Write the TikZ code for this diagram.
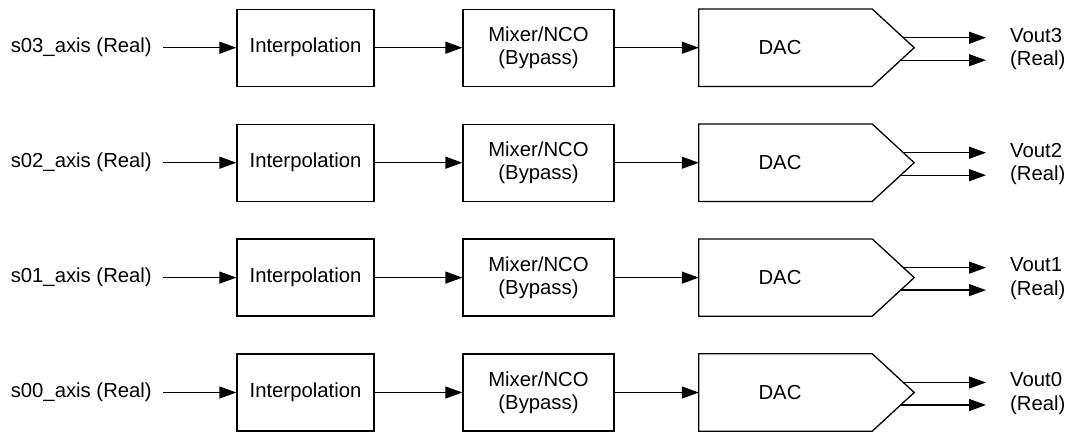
\documentclass[tikz,border=0pt]{standalone}
\usepackage{fontspec}
\setmainfont{Liberation Sans}
\usetikzlibrary{arrows.meta,calc}
\begin{document}
\begin{tikzpicture}[x=1pt,y=-1pt,
  every node/.style={font=\fontsize{20.3}{23.5}\selectfont, text=black},
  blk/.style={draw=black, line width=1.3pt, minimum height=77pt, inner sep=0pt, align=center},
  conn/.style={draw=black, line width=1.3pt, -{Triangle[length=17pt,width=12pt]}},
  lab/.style={inner sep=0pt, inner xsep=0pt},
  dacshape/.style={draw=black, line width=1.3pt, line join=miter}]
\useasboundingbox (0,0) rectangle (1072,432);
\foreach \i/\y in {3/47.7,2/162.7,1/277.6,0/392.5} {
  \node[lab, anchor=east] (in\i) at (152,\y) {s0\i\_axis (Real)};
  \node[blk, minimum width=137pt] (ip\i) at (305.5,\y) {Interpolation};
  \node[blk, minimum width=151pt] (mx\i) at (538.5,\y) {Mixer/NCO\\(Bypass)};
  \node[minimum width=173pt, minimum height=77pt, inner sep=0pt,
        label={[xshift=-5.5pt]center:DAC}] (dac\i) at (785.5,\y) {};
  \draw[dacshape] (dac\i.north west) -- (dac\i.north east) -- ($(dac\i.east)+(42,0)$) -- (dac\i.south east) -- (dac\i.south west) -- cycle;
  \node[lab, anchor=west, align=left] (out\i) at (1010,\y+1.25) {Vout\i\\(Real)};
  \coordinate (oa\i) at (903.1,\y-10);
  \coordinate (ob\i) at (900.4,\y+12.5);
  \coordinate (ea\i) at (986,\y-10);
  \coordinate (eb\i) at (986,\y+12.5);
  \draw[conn] ([xshift=11pt]in\i.east) -- (ip\i.west);
  \draw[conn] (ip\i.east) -- (mx\i.west);
  \draw[conn] (mx\i.east) -- (dac\i.west);
  \draw[conn] (oa\i) -- (ea\i);
  \draw[conn] (ob\i) -- (eb\i);
}
\end{tikzpicture}
\end{document}
